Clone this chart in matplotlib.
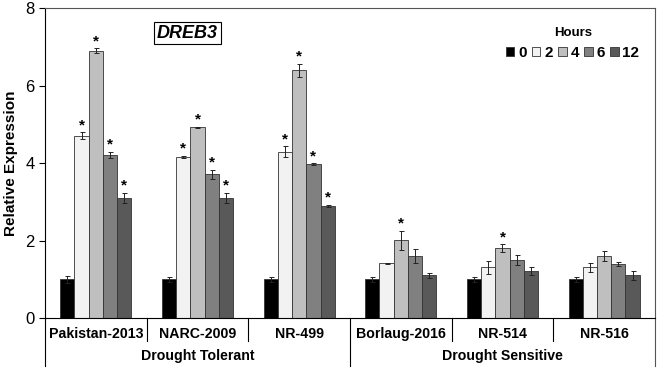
import matplotlib.pyplot as plt
import numpy as np

plt.rcParams['font.family'] = ['Liberation Sans', 'DejaVu Sans']

cultivars = ['Pakistan-2013', 'NARC-2009', 'NR-499', 'Borlaug-2016', 'NR-514', 'NR-516']
hours = ['0', '2', '4', '6', '12']
groups = ['Drought Tolerant', 'Drought Sensitive']

# expression per hour, one value per cultivar
h0 = [1.0, 1.0, 1.0, 1.0, 1.0, 1.0]
h2 = [4.70, 4.15, 4.29, 1.41, 1.31, 1.31]
h4 = [6.90, 4.92, 6.40, 2.01, 1.80, 1.60]
h6 = [4.21, 3.71, 3.97, 1.60, 1.50, 1.40]
h12 = [3.10, 3.10, 2.90, 1.10, 1.21, 1.10]

e0 = [0.09, 0.06, 0.06, 0.06, 0.06, 0.06]
e2 = [0.09, 0.03, 0.14, 0.02, 0.16, 0.11]
e4 = [0.06, 0.02, 0.17, 0.25, 0.10, 0.12]
e6 = [0.07, 0.11, 0.02, 0.17, 0.12, 0.06]
e12 = [0.13, 0.13, 0.03, 0.07, 0.10, 0.11]

# significance marks (1 = star)
s0 = [0, 0, 0, 0, 0, 0]
s2 = [1, 1, 1, 0, 0, 0]
s4 = [1, 1, 1, 1, 1, 0]
s6 = [1, 1, 1, 0, 0, 0]
s12 = [1, 1, 1, 0, 0, 0]

values = [h0, h2, h4, h6, h12]
errors = [e0, e2, e4, e6, e12]
stars = [s0, s2, s4, s6, s12]
colors = ['#000000', '#f2f2f2', '#bfbfbf', '#808080', '#595959']

fig = plt.figure(figsize=(6.58, 3.69), dpi=100)
ax = fig.add_axes([0.0684, 0.138, 0.927, 0.840])

x = np.arange(len(cultivars))
w = 0.14
for j in range(5):
    pos = x + (j - 2) * w
    ax.bar(pos, values[j], width=w, color=colors[j], edgecolor='#333333',
           linewidth=0.6, label=hours[j], zorder=2)
    ax.errorbar(pos, values[j], yerr=errors[j], fmt='none', ecolor='#222222',
                elinewidth=0.7, capsize=1.8, capthick=0.7, zorder=3)
    for i in range(len(cultivars)):
        if stars[j][i]:
            ax.text(pos[i], values[j][i] + errors[j][i] + 0.01, '*', ha='center',
                    va='bottom', fontsize=11, fontweight='bold')

ax.set_xlim(-0.5, 5.5)
ax.set_ylim(0, 8)
ax.set_yticks([0, 2, 4, 6, 8])
ax.tick_params(axis='y', labelsize=12, length=4, width=0.8)
ax.set_xticks([])
ax.set_ylabel('Relative Expression', fontsize=11, fontweight='bold', labelpad=5)
for sp in ax.spines.values():
    sp.set_linewidth(0.8)
ax.spines['top'].set_color('#555555')
ax.spines['right'].set_color('#555555')

# category labels below the axis
trans = ax.get_xaxis_transform()
for i, name in enumerate(cultivars):
    ax.text(i, -0.05, name, transform=trans, ha='center', va='center',
            fontsize=10.2, fontweight='bold')
for i, g in enumerate(groups):
    ax.text(1 + 3 * i, -0.123, g, transform=trans, ha='center', va='center',
            fontsize=10.2, fontweight='bold')
for b in [0.5, 1.5, 3.5, 4.5]:
    ax.plot([b, b], [0, -0.075], transform=trans, color='black', lw=0.8, clip_on=False)
for b in [-0.5, 2.5, 5.5]:
    ax.plot([b, b], [0, -0.155], transform=trans, color='black' if b < 5 else '#555555',
            lw=0.8, clip_on=False)

ax.text(0.9, 0.919, 'DREB3', transform=trans, ha='center', va='center',
        fontsize=13, fontweight='bold', style='italic',
        bbox=dict(boxstyle='square,pad=0.15', fc='white', ec='black', lw=0.8))

leg = ax.legend(ncol=5, loc='upper right', bbox_to_anchor=(0.997, 0.985), frameon=False,
                title='Hours', handlelength=0.55, handleheight=0.55, handletextpad=0.25,
                columnspacing=0.35, prop={'weight': 'bold', 'size': 11})
leg.get_title().set_fontweight('bold')
leg.get_title().set_fontsize(9.5)

fig.savefig('out.png', dpi=100)
